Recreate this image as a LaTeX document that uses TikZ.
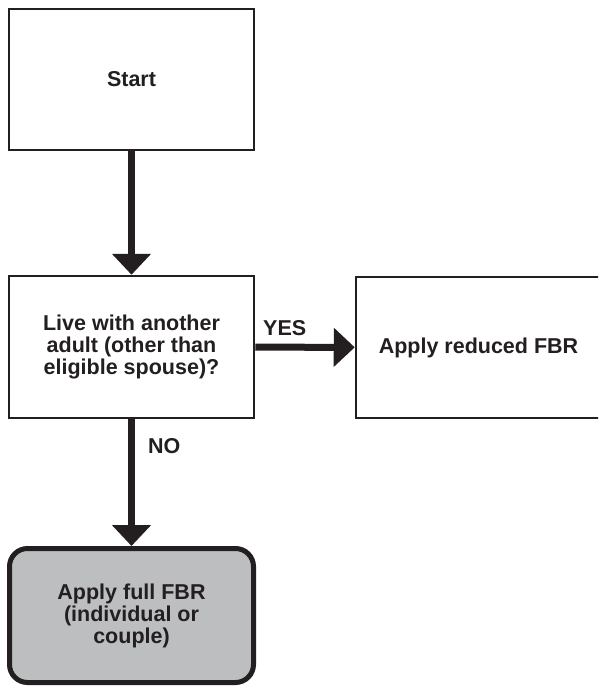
\documentclass[tikz,border=0pt]{standalone}
\usepackage{fontspec}
\setmainfont{Liberation Sans}
\usepackage[dvipsnames]{xcolor}
\usetikzlibrary{arrows.meta}

\definecolor{ink}{HTML}{231F20}
\definecolor{boxgray}{HTML}{BCBEC0}

\begin{document}
\begin{tikzpicture}[x=1pt,y=-1pt]
	
	\tikzset{flow box/.style={
			draw=ink,
			line width=2.5pt,
			minimum width=245pt,
			minimum height=141pt,
			inner sep=0pt,
			align=center,
			text=ink,
			font=\bfseries\fontsize{21.5}{22}\selectfont
		},
		end box/.style={
			flow box,
			line width=5pt,
			fill=boxgray,
			rounded corners=18pt,
			minimum width=244pt,
			minimum height=134pt
		},
		flow arrow/.style={
			draw=ink,
			line width=7pt,
			-{Triangle[width=38pt,length=21pt]}
		},
		answer/.style={
			text=ink,
			inner sep=0pt,
			font=\bfseries\fontsize{21.5}{22}\selectfont
		}
	}
	
	\clip (0,0) rectangle (598,687);
	
	\node[flow box] (start) at (131.5,79.5) {Start};
	\node[flow box, minimum height=142pt] (adult) at (131.5,347) {Live with another\\adult (other than\\eligible spouse)?};
	% box runs past the right edge of the page
	\node[flow box, minimum width=256pt] (reduced) at (484,347.5) {};
	\node[text=ink, font=\bfseries\fontsize{21.5}{22}\selectfont] (reducedtext) at (478.5,347.5) {Apply reduced FBR};
	\node[end box] (full) at (131.5,615.5) {Apply full FBR\\(individual or\\couple)};
	
	\draw[flow arrow] (start) -- (adult);
	\draw[flow arrow] (adult) -- (reduced);
	\draw[flow arrow] (adult) -- (full);
	
	\node[answer, anchor=base west] (yes) at (263,335) {YES};
	\node[answer, anchor=base west] (no) at (148,453) {NO};
	
\end{tikzpicture}
\end{document}
